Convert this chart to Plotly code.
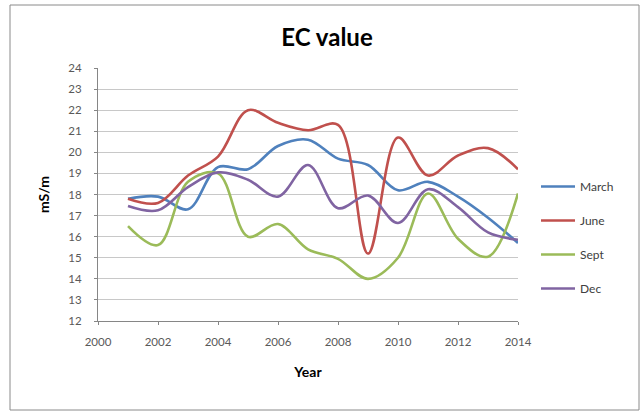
import plotly.graph_objects as go

years = [2001, 2002, 2003, 2004, 2005, 2006, 2007, 2008, 2009, 2010, 2011, 2012, 2013, 2014]
march = [17.8, 17.9, 17.3, 19.3, 19.2, 20.3, 20.6, 19.7, 19.4, 18.2, 18.6, 17.9, 16.9, 15.7]
june = [17.8, 17.6, 18.9, 19.8, 22.0, 21.4, 21.05, 21.3, 15.2, 20.7, 18.9, 19.85, 20.2, 19.2]
sept = [16.5, 15.6, 18.6, 19.0, 16.0, 16.6, 15.4, 14.95, 14.0, 15.0, 18.05, 15.9, 15.05, 18.05]
dec = [17.45, 17.25, 18.35, 19.05, 18.7, 17.9, 19.4, 17.35, 17.95, 16.65, 18.25, 17.4, 16.2, 15.85]

series_names = ["March", "June", "Sept", "Dec"]
series_values = [march, june, sept, dec]
colors = ["#4F81BD", "#C0504D", "#9BBB59", "#8064A2"]

x_ticks = [2000, 2002, 2004, 2006, 2008, 2010, 2012, 2014]
y_ticks = list(range(12, 25))

FONT = "Lato, 'Open Sans', sans-serif"

fig = go.Figure()
for name, vals, col in zip(series_names, series_values, colors):
    fig.add_trace(go.Scatter(
        x=years, y=vals, name=name, mode="lines",
        line=dict(color=col, width=2.6, shape="spline", smoothing=1.0),
        legendgroup=name,
    ))

L, R, T, B = 98, 126, 68, 92
W, H = 644, 413
pw = W - L - R
ph = H - T - B

def px_x(p):
    return (p - L) / pw

def px_y(p):
    return (H - B - p) / ph

fig.update_layout(
    width=W, height=H,
    margin=dict(l=L, r=R, t=T, b=B),
    paper_bgcolor="white", plot_bgcolor="white",
    font=dict(family=FONT, color="#595959", size=11),
    title=dict(text="<b>EC value</b>", x=px_x(327), xref="paper", xanchor="center",
               y=1 - 38 / H, yref="container", yanchor="middle",
               font=dict(family=FONT, size=24, color="#000000")),
    xaxis=dict(range=[2000, 2014], tickvals=x_ticks, showgrid=False,
               showline=True, linecolor="#868686", linewidth=1,
               ticks="outside", ticklen=3, tickcolor="#868686",
               ticklabelstandoff=7,
               tickfont=dict(size=11.5, color="#595959"),
               title=dict(text="<b>Year</b>", font=dict(size=14, color="#000000"), standoff=20),
               zeroline=False),
    yaxis=dict(range=[12, 24], tickvals=y_ticks, showgrid=True, gridcolor="#c8c8c8", gridwidth=1,
               showline=True, linecolor="#868686", linewidth=1,
               ticks="outside", ticklen=3, tickcolor="#868686",
               ticklabelstandoff=10,
               tickfont=dict(size=11.5, color="#595959"),
               title=dict(text="<b>mS/m</b>", font=dict(size=14, color="#000000"), standoff=15),
               zeroline=False),
    legend=dict(x=px_x(536), xanchor="left", y=px_y(172), yanchor="top",
                bgcolor="rgba(0,0,0,0)", font=dict(size=12, color="#404040"),
                tracegroupgap=15, itemwidth=34),
    showlegend=True,
)

fig.add_shape(type="rect", xref="paper", yref="paper",
              x0=px_x(10), x1=px_x(639), y0=px_y(410), y1=px_y(5),
              line=dict(color="#8a8a8a", width=1), layer="below")

fig.write_html("out.html", config={"displayModeBar": False},
               post_script="document.body.style.margin='0px';")
